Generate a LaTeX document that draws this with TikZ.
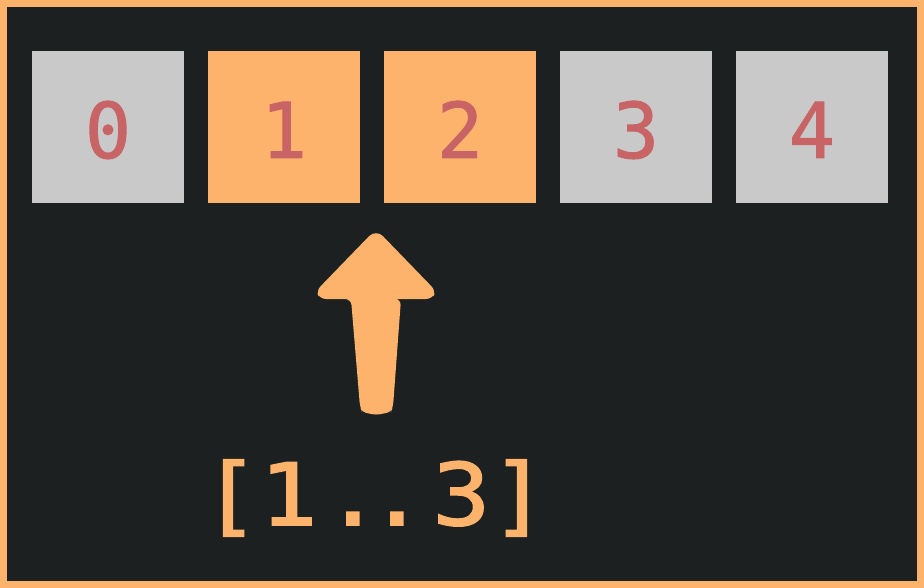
\documentclass[tikz,border=0pt]{standalone}
\usepackage{fontspec}
\newfontfamily\monofont[FakeBold=1.2]{DejaVu Sans Mono}
\newfontfamily\monofontb[FakeBold=1.8]{DejaVu Sans Mono}
\definecolor{bg}{HTML}{1D2021}
\definecolor{org}{HTML}{FDB36B}
\definecolor{gry}{HTML}{C8C9C8}
\definecolor{rd}{HTML}{C86466}
\begin{document}
\begin{tikzpicture}[x=1pt,y=-1pt,
  cell/.style={minimum width=152pt, minimum height=152pt, inner sep=0pt, text=rd,
    font=\monofont\fontsize{77}{77}\selectfont, text height=62pt, text depth=0pt},
  graycell/.style={cell, fill=gry},
  orangecell/.style={cell, fill=org}]
\useasboundingbox (0,0) rectangle (924,588);
\fill[org] (0,0) rectangle (924,588);
\fill[bg] (7,7) rectangle (917,581);
\node[graycell] (b0) at (108,127) {0};
\node[orangecell] (b1) at (284,127) {1};
\node[orangecell] (b2) at (460,127) {2};
\node[graycell] (b3) at (636,127) {3};
\node[graycell] (b4) at (812,127) {4};
\fill[org, rounded corners=6pt] (376,299) -- (401,299) -- (393,407)
  [rounded corners=4pt] -- (391,412) -- (376,415) -- (362,412) [rounded corners=6pt] -- (360,407)
  -- (351,299) -- (320,299) -- (316,291) [rounded corners=10pt] -- (376,229)
  [rounded corners=6pt] -- (436,291) -- (432,299) -- cycle;
\node[anchor=base, inner sep=0pt, xscale=1.116, text=org, font=\monofontb\fontsize{86}{86}\selectfont] (rng) at (375,525) {[1\kern6pt.\kern-12.5pt.\kern6pt3]};
\end{tikzpicture}
\end{document}
